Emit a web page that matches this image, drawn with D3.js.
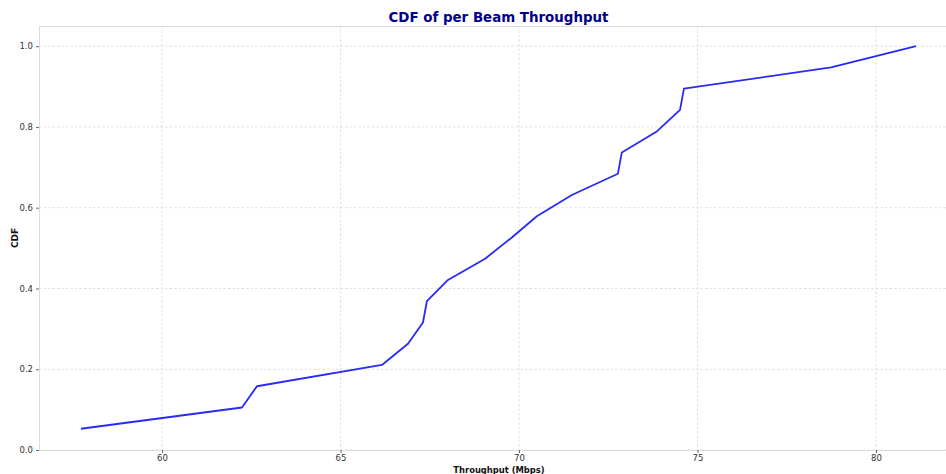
<!DOCTYPE html>
<html>
<head>
<meta charset="utf-8">
<script src="https://cdn.jsdelivr.net/npm/d3@7"></script>
<style>
  html, body { margin: 0; padding: 0; background: #fff; }
  svg { display: block; font-family: "DejaVu Sans", sans-serif; }
</style>
</head>
<body>
<svg id="chart" width="946" height="474"></svg>
<script>
// Per-beam throughput samples (Mbps), sorted, and their empirical CDF values
const throughput = [57.73, 62.24, 62.66, 66.16, 66.89, 67.31, 67.42, 68.01, 69.05, 69.80,
                    70.50, 71.48, 72.77, 72.88, 73.87, 74.51, 74.62, 78.74, 81.12];
const cdf = throughput.map((_, i) => (i + 1) / throughput.length);

const xTicks = [60, 65, 70, 75, 80];
const yTicks = [0.0, 0.2, 0.4, 0.6, 0.8, 1.0];

const W = 946, H = 474;
const m = { left: 39, right: 0, top: 26, bottom: 24 };

const svg = d3.select("#chart");

const x = d3.scaleLinear().domain([56.555, 81.96]).range([m.left, W - m.right]);
const y = d3.scaleLinear().domain([0, 1.05]).range([H - m.bottom, m.top]);

// grid
const grid = svg.append("g");
grid.selectAll(".gx").data(xTicks).enter().append("line")
  .attr("x1", d => x(d)).attr("x2", d => x(d))
  .attr("y1", m.top).attr("y2", H - m.bottom)
  .attr("stroke", "#d4d4d4").attr("stroke-width", 0.7).attr("stroke-dasharray", "2.5,2");
grid.selectAll(".gy").data(yTicks).enter().append("line")
  .attr("x1", m.left).attr("x2", W - m.right)
  .attr("y1", d => y(d)).attr("y2", d => y(d))
  .attr("stroke", "#d4d4d4").attr("stroke-width", 0.7).attr("stroke-dasharray", "2.5,2");

// frame
const frame = svg.append("g").attr("stroke", "#dddddd").attr("stroke-width", 1);
frame.append("line").attr("x1", m.left + 0.5).attr("x2", m.left + 0.5).attr("y1", m.top).attr("y2", H - m.bottom);
frame.append("line").attr("x1", m.left).attr("x2", W).attr("y1", m.top + 0.5).attr("y2", m.top + 0.5);
frame.append("line").attr("x1", m.left).attr("x2", W).attr("y1", H - m.bottom + 0.5).attr("y2", H - m.bottom + 0.5);

// axes
const xAxis = svg.append("g")
  .attr("transform", `translate(0,${H - m.bottom})`)
  .call(d3.axisBottom(x).tickValues(xTicks).tickFormat(d3.format("d")).tickSize(3).tickPadding(2));
const yAxis = svg.append("g")
  .attr("transform", `translate(${m.left},0)`)
  .call(d3.axisLeft(y).tickValues(yTicks).tickFormat(d3.format(".1f")).tickSize(3).tickPadding(3));
[xAxis, yAxis].forEach(a => {
  a.select(".domain").remove();
  a.selectAll(".tick line").attr("stroke", "#666");
  a.selectAll(".tick text").attr("fill", "#333").style("font-size", "8.5px")
    .style("font-family", "'DejaVu Sans', sans-serif");
});

// CDF line
const line = d3.line().x((d, i) => x(throughput[i])).y(d => y(d));
svg.append("path")
  .datum(cdf)
  .attr("d", line)
  .attr("fill", "none")
  .attr("stroke", "#2a2af5")
  .attr("stroke-width", 1.8)
  .attr("stroke-linejoin", "round");

// title and labels
svg.append("text")
  .attr("x", 498.5).attr("y", 22)
  .attr("text-anchor", "middle")
  .attr("fill", "#00008b")
  .style("font-size", "13.4px").style("font-weight", "bold")
  .text("CDF of per Beam Throughput");

svg.append("text")
  .attr("x", 499).attr("y", 472.5)
  .attr("text-anchor", "middle")
  .attr("fill", "#111")
  .style("font-size", "8.4px").style("font-weight", "bold")
  .text("Throughput (Mbps)");

svg.append("text")
  .attr("transform", `translate(18,${(m.top + H - m.bottom) / 2}) rotate(-90)`)
  .attr("text-anchor", "middle")
  .attr("fill", "#111")
  .style("font-size", "9px").style("font-weight", "bold")
  .text("CDF");
</script>
</body>
</html>
